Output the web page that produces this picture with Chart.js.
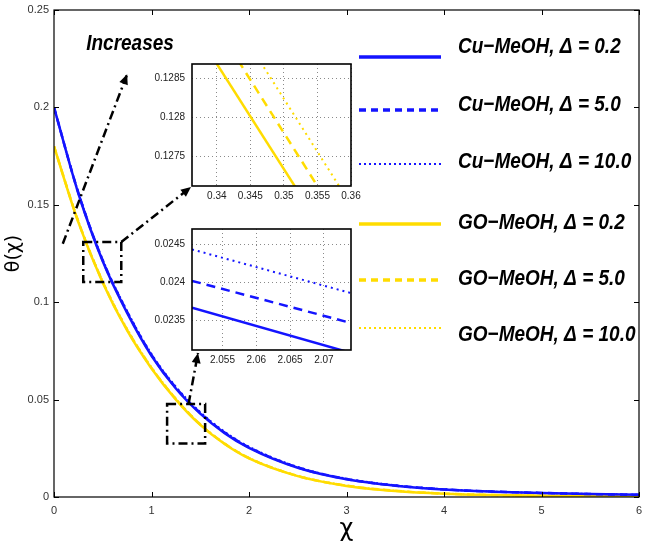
<!DOCTYPE html>
<html>
<head>
<meta charset="utf-8">
<script src="https://cdn.jsdelivr.net/npm/chart.js@4.4.1/dist/chart.umd.min.js"></script>
<style>
  body { margin: 0; background: #fff; }
  #wrap { position: relative; width: 645px; height: 544px; }
  #wrap canvas { position: absolute; }
</style>
</head>
<body>
<div id="wrap">
  <canvas id="mainChart" width="645" height="544" style="left:0;top:0"></canvas>
  <canvas id="inset1" width="225" height="144" style="left:140px;top:62px"></canvas>
  <canvas id="inset2" width="225" height="143" style="left:140px;top:227px"></canvas>
</div>
<script>
// ---- dados ----
const chi = [0, 0.25, 0.5, 0.75, 1, 1.25, 1.5, 1.75, 2, 2.5, 3, 3.5, 4, 4.5, 5, 5.5, 6];

// Cu-MeOH (azul)
const cuD02 = [0.200, 0.1558, 0.1210, 0.0945, 0.0725, 0.0557, 0.0428, 0.0328, 0.0252, 0.0150, 0.0091, 0.0058, 0.0038, 0.0027, 0.0020, 0.0015, 0.0011];
const cuD5  = [0.200, 0.1561, 0.1214, 0.0950, 0.0729, 0.0561, 0.0432, 0.0331, 0.0255, 0.0152, 0.0092, 0.0059, 0.0039, 0.0028, 0.0021, 0.0015, 0.0011];
const cuD10 = [0.200, 0.1563, 0.1218, 0.0955, 0.0734, 0.0566, 0.0436, 0.0335, 0.0258, 0.0154, 0.0094, 0.0060, 0.0040, 0.0028, 0.0021, 0.0016, 0.0012];

// GO-MeOH (amarelo)
const goD02 = [0.180, 0.1410, 0.1100, 0.0855, 0.0660, 0.0500, 0.0370, 0.0272, 0.0198, 0.0107, 0.0057, 0.0031, 0.0017, 0.0010, 0.0006, 0.0004, 0.0002];
const goD5  = [0.180, 0.1413, 0.1104, 0.0859, 0.0663, 0.0503, 0.0372, 0.0274, 0.0200, 0.0108, 0.0058, 0.0032, 0.0017, 0.0010, 0.0006, 0.0004, 0.0002];
const goD10 = [0.180, 0.1416, 0.1108, 0.0863, 0.0666, 0.0505, 0.0374, 0.0275, 0.0201, 0.0109, 0.0059, 0.0032, 0.0018, 0.0010, 0.0006, 0.0004, 0.0002];

const seriesLabels = ['Cu−MeOH, Δ = 0.2', 'Cu−MeOH, Δ = 5.0', 'Cu−MeOH, Δ = 10.0',
                      'GO−MeOH, Δ = 0.2', 'GO−MeOH, Δ = 5.0', 'GO−MeOH, Δ = 10.0'];
const mainTicksX = [0, 1, 2, 3, 4, 5, 6];
const mainTicksY = [0, 0.05, 0.1, 0.15, 0.2, 0.25];

// zoom 1 (GO-MeOH perto de χ = 0.35)
const zoom1Chi = [0.336, 0.36];
const zoom1D02 = [0.12922, 0.12599];
const zoom1D5  = [0.12970, 0.12644];
const zoom1D10 = [0.13013, 0.12688];
const zoom1TicksX = [0.34, 0.345, 0.35, 0.355, 0.36];
const zoom1TicksY = [0.1275, 0.128, 0.1285];

// zoom 2 (Cu-MeOH perto de χ = 2.06)
const zoom2Chi = [2.0505, 2.074];
const zoom2D02 = [0.02367, 0.02308];
const zoom2D5  = [0.02402, 0.02347];
const zoom2D10 = [0.02443, 0.02386];
const zoom2TicksX = [2.055, 2.06, 2.065, 2.07];
const zoom2TicksY = [0.0235, 0.024, 0.0245];

// ---- estilos ----
const BLUE = '#1414ff';
const YELLOW = '#ffdc00';
const FONT = "'Liberation Sans', Arial, Helvetica, sans-serif";
const GREEK = "'DejaVu Sans', sans-serif";
Chart.defaults.font.family = FONT;

// posição dos insets (área do gráfico em px da página)
const inset1Box = { left: 192, top: 64, right: 351, bottom: 186 };
const inset2Box = { left: 192, top: 229, right: 351, bottom: 350 };

function pts(xs, ys) {
    return xs.map((x, i) => ({ x: x, y: ys[i] }));
}

function serie(label, ys, color, dash, width) {
    return {
        label: label,
        data: pts(chi, ys),
        borderColor: color,
        borderDash: dash,
        borderWidth: width,
        pointRadius: 0,
        cubicInterpolationMode: 'monotone',
        clip: 0
    };
}

// fundo branco
const whiteBg = {
    id: 'whiteBg',
    beforeDraw(chart) {
        const ctx = chart.ctx;
        ctx.save();
        ctx.fillStyle = '#fff';
        ctx.fillRect(0, 0, chart.width, chart.height);
        ctx.restore();
    }
};

// moldura com ticks para dentro
const frame = {
    id: 'frame',
    afterDatasetsDraw(chart) {
        const { ctx, chartArea: a, scales: { x, y } } = chart;
        ctx.save();
        ctx.strokeStyle = '#000';
        ctx.lineWidth = 1.2;
        ctx.setLineDash([]);
        ctx.strokeRect(a.left, a.top, a.right - a.left, a.bottom - a.top);
        ctx.beginPath();
        x.ticks.forEach(t => {
            const px = Math.round(x.getPixelForValue(t.value)) + 0.5;
            ctx.moveTo(px, a.bottom); ctx.lineTo(px, a.bottom - 5);
            ctx.moveTo(px, a.top); ctx.lineTo(px, a.top + 5);
        });
        y.ticks.forEach(t => {
            const py = Math.round(y.getPixelForValue(t.value)) + 0.5;
            ctx.moveTo(a.left, py); ctx.lineTo(a.left + 5, py);
            ctx.moveTo(a.right, py); ctx.lineTo(a.right - 5, py);
        });
        ctx.lineWidth = 1;
        ctx.stroke();
        ctx.restore();
    }
};

function arrowHead(ctx, x0, y0, x1, y1) {
    const ang = Math.atan2(y1 - y0, x1 - x0);
    ctx.save();
    ctx.setLineDash([]);
    ctx.translate(x1, y1);
    ctx.rotate(ang);
    ctx.beginPath();
    ctx.moveTo(0, 0);
    ctx.lineTo(-10, -4.5);
    ctx.lineTo(-10, 4.5);
    ctx.closePath();
    ctx.fill();
    ctx.restore();
}

// caixas de zoom, setas e texto "Increases"
const annotations = {
    id: 'annotations',
    afterDatasetsDraw(chart) {
        const { ctx, scales: { x, y } } = chart;
        const X = v => x.getPixelForValue(v);
        const Y = v => y.getPixelForValue(v);
        ctx.save();
        ctx.strokeStyle = '#000';
        ctx.fillStyle = '#000';
        ctx.lineWidth = 2.5;
        ctx.setLineDash([9, 4, 2, 4]);

        const boxes = [[0.30, 0.69, 0.1104, 0.1309], [1.16, 1.55, 0.0275, 0.0477]];
        boxes.forEach(b => {
            ctx.strokeRect(X(b[0]), Y(b[3]), X(b[1]) - X(b[0]), Y(b[2]) - Y(b[3]));
        });

        const arrows = [
            [X(0.09), Y(0.130), X(0.75), Y(0.217)],
            [X(0.69), Y(0.1309), inset1Box.left - 1, inset1Box.bottom + 1],
            [X(1.38), Y(0.0477), inset2Box.left + 6, inset2Box.bottom + 3]
        ];
        arrows.forEach(a => {
            ctx.beginPath();
            ctx.moveTo(a[0], a[1]);
            ctx.lineTo(a[2], a[3]);
            ctx.stroke();
            arrowHead(ctx, a[0], a[1], a[2], a[3]);
        });

        ctx.setLineDash([]);
        ctx.font = 'italic bold 19px ' + FONT;
        ctx.textAlign = 'center';
        ctx.textBaseline = 'middle';
        ctx.translate(X(0.78), Y(0.2323));
        ctx.scale(1, 1.15);
        ctx.fillText('Increases', 0, 0);
        ctx.restore();
    }
};

// legenda desenhada à direita
const legendRows = [[57, 47], [110, 105], [164, 162], [224, 223], [280, 279], [328, 335]];
const customLegend = {
    id: 'customLegend',
    afterDraw(chart) {
        const ctx = chart.ctx;
        ctx.save();
        chart.data.datasets.forEach((ds, i) => {
            const [ly, ty] = legendRows[i];
            ctx.strokeStyle = ds.borderColor;
            ctx.lineWidth = ds.legendWidth;
            ctx.setLineDash(ds.borderDash);
            ctx.beginPath();
            ctx.moveTo(359, ly);
            ctx.lineTo(441, ly);
            ctx.stroke();

            ctx.save();
            ctx.fillStyle = '#000';
            ctx.font = 'italic bold 19px ' + FONT;
            ctx.textAlign = 'left';
            ctx.textBaseline = 'middle';
            ctx.translate(458, ty);
            ctx.scale(1, 1.15);
            ctx.fillText(ds.label, 0, 0);
            ctx.restore();
        });
        ctx.restore();
    }
};

const datasets = [
    serie(seriesLabels[0], cuD02, BLUE, [], 2.5),
    serie(seriesLabels[1], cuD5, BLUE, [7, 5], 2.5),
    serie(seriesLabels[2], cuD10, BLUE, [2, 3], 2),
    serie(seriesLabels[3], goD02, YELLOW, [], 2.5),
    serie(seriesLabels[4], goD5, YELLOW, [7, 5], 2.5),
    serie(seriesLabels[5], goD10, YELLOW, [2, 3], 2)
];
datasets.forEach((d, i) => { d.legendWidth = (i % 3 === 2) ? 2 : 3.5; });

new Chart(document.getElementById('mainChart'), {
    type: 'line',
    data: { datasets: datasets },
    options: {
        responsive: false,
        animation: false,
        events: [],
        layout: { padding: { top: 10, right: 6, left: 0, bottom: 0 } },
        plugins: { legend: { display: false }, tooltip: { enabled: false } },
        scales: {
            x: {
                type: 'linear', min: 0, max: 6,
                grid: { display: false, drawTicks: false },
                border: { display: false },
                afterBuildTicks: s => { s.ticks = mainTicksX.map(v => ({ value: v })); },
                afterFit: s => { s.height = 47; s.paddingLeft = 0; s.paddingRight = 0; },
                ticks: { color: '#333', font: { size: 11 }, padding: 7, maxRotation: 0 },
                title: { display: true, text: 'χ', color: '#000', font: { size: 24, family: GREEK }, padding: 0 }
            },
            y: {
                type: 'linear', min: 0, max: 0.25,
                grid: { display: false, drawTicks: false },
                border: { display: false },
                afterBuildTicks: s => { s.ticks = mainTicksY.map(v => ({ value: v })); },
                afterFit: s => { s.width = 54; s.paddingTop = 0; s.paddingBottom = 0; },
                ticks: { color: '#333', font: { size: 11 }, padding: 5,
                         callback: v => String(Number(v.toFixed(3))) },
                title: { display: true, text: 'θ(χ)', color: '#000', font: { size: 19, family: GREEK }, padding: { top: 3, bottom: 0 } }
            }
        }
    },
    plugins: [whiteBg, annotations, frame, customLegend]
});

// ---- insets ----
const insetArea = {
    id: 'insetArea',
    beforeDatasetsDraw(chart) {
        const { ctx, chartArea: a } = chart;
        ctx.save();
        ctx.globalCompositeOperation = 'destination-over';
        ctx.fillStyle = '#fff';
        ctx.fillRect(a.left, a.top, a.right - a.left, a.bottom - a.top);
        ctx.restore();
    },
    afterDatasetsDraw(chart) {
        const { ctx, chartArea: a } = chart;
        ctx.save();
        ctx.strokeStyle = '#000';
        ctx.lineWidth = 1.6;
        ctx.strokeRect(a.left, a.top, a.right - a.left, a.bottom - a.top);
        ctx.restore();
    }
};

function insetChart(id, xs, ys, dec, ticksX, ticksY, xmin, xmax, ymin, ymax, color) {
    const dashes = [[], [9, 6], [2, 4]];
    const widths = [2.5, 2.5, 2];
    new Chart(document.getElementById(id), {
        type: 'line',
        data: {
            datasets: ys.map((arr, i) => ({
                data: pts(xs, arr),
                borderColor: color,
                borderDash: dashes[i],
                borderWidth: widths[i],
                pointRadius: 0,
                clip: 0
            }))
        },
        options: {
            responsive: false,
            animation: false,
            events: [],
            layout: { padding: { top: 2, right: 14, left: 0, bottom: 0 } },
            plugins: { legend: { display: false }, tooltip: { enabled: false } },
            scales: {
                x: {
                    type: 'linear', min: xmin, max: xmax,
                    grid: { color: '#8a8a8a', lineWidth: 1, drawTicks: false },
                    border: { display: false, dash: [1, 3] },
                    afterBuildTicks: s => { s.ticks = ticksX.map(v => ({ value: v })); },
                    afterFit: s => { s.height = 20; s.paddingLeft = 0; s.paddingRight = 0; },
                    ticks: { color: '#222', font: { size: 10 }, padding: 4, maxRotation: 0,
                             callback: v => String(Number(v.toFixed(dec[0]))) }
                },
                y: {
                    type: 'linear', min: ymin, max: ymax,
                    grid: { color: '#8a8a8a', lineWidth: 1, drawTicks: false },
                    border: { display: false, dash: [1, 3] },
                    afterBuildTicks: s => { s.ticks = ticksY.map(v => ({ value: v })); },
                    afterFit: s => { s.width = 52; s.paddingTop = 0; s.paddingBottom = 0; },
                    ticks: { color: '#222', font: { size: 10 }, padding: 7,
                             callback: v => String(Number(v.toFixed(dec[1]))) }
                }
            }
        },
        plugins: [insetArea]
    });
}

insetChart('inset1', zoom1Chi, [zoom1D02, zoom1D5, zoom1D10], [3, 4],
           zoom1TicksX, zoom1TicksY, 0.3363, 0.36, 0.12712, 0.12868, YELLOW);
insetChart('inset2', zoom2Chi, [zoom2D02, zoom2D5, zoom2D10], [3, 4],
           zoom2TicksX, zoom2TicksY, 2.0505, 2.074, 0.023118, 0.024696, BLUE);
</script>
</body>
</html>
